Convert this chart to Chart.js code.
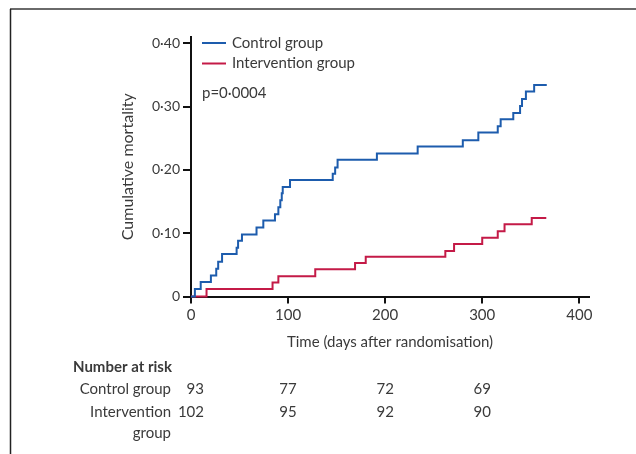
<!DOCTYPE html>
<html>
<head>
<meta charset="utf-8">
<script src="https://cdn.jsdelivr.net/npm/chart.js@4/dist/chart.umd.min.js"></script>
<style>
  html, body { margin: 0; padding: 0; background: #fff; }
  canvas { display: block; }
</style>
</head>
<body>
<canvas id="c" width="636" height="454"></canvas>
<script>
// ---- data ----
const controlDays = [0, 4, 10, 20.5, 26, 28, 32, 47, 48.5, 52.5, 67.5, 74.5, 86.5, 90, 92, 93.5, 94.5, 102, 146, 148.5, 151, 191.5, 233.5, 280, 296, 316, 319, 332, 339, 341, 345, 353.5, 366.5];
const controlMortality = [0, 0.012, 0.023, 0.033, 0.044, 0.055, 0.067, 0.077, 0.088, 0.098, 0.109, 0.120, 0.130, 0.141, 0.152, 0.163, 0.173, 0.184, 0.194, 0.204, 0.216, 0.226, 0.237, 0.247, 0.259, 0.269, 0.280, 0.290, 0.301, 0.312, 0.324, 0.334, 0.334];
const interventionDays = [0, 16, 84, 90, 128, 169, 180, 262, 271, 300, 316, 323, 351, 366];
const interventionMortality = [0, 0.012, 0.022, 0.032, 0.043, 0.053, 0.063, 0.072, 0.083, 0.093, 0.103, 0.114, 0.124, 0.124];

const seriesNames = ['Control group', 'Intervention group'];
const xTickValues = [0, 100, 200, 300, 400];
const xTickLabels = ['0', '100', '200', '300', '400'];
const yTickValues = [0, 0.1, 0.2, 0.3, 0.4];
const yTickLabels = ['0', '0·10', '0·20', '0·30', '0·40'];
const pValueText = 'p=0·0004';

const riskTimes = [0, 100, 200, 300];
const riskControl = [93, 77, 72, 69];
const riskIntervention = [102, 95, 92, 90];

const BLUE = '#1d5cad';
const RED = '#c41a47';
const TEXT = '#3a3a3a';
const FONT = 'Lato, "Open Sans", sans-serif';

function pts(xs, ys) { return xs.map((x, i) => ({ x: x, y: ys[i] })); }

const overlay = {
  id: 'overlay',
  beforeDraw(chart) {
    const ctx = chart.ctx;
    ctx.save();
    ctx.fillStyle = '#fff';
    ctx.fillRect(0, 0, chart.width, chart.height);
    // frame
    ctx.strokeStyle = '#6a6a6a';
    ctx.lineWidth = 2;
    ctx.beginPath(); ctx.moveTo(10, 9); ctx.lineTo(chart.width, 9); ctx.stroke();
    ctx.strokeStyle = '#222';
    ctx.lineWidth = 1.5;
    ctx.beginPath(); ctx.moveTo(10.5, 9); ctx.lineTo(10.5, chart.height); ctx.stroke();
    ctx.restore();
  },
  afterDraw(chart) {
    const ctx = chart.ctx;
    const xs = chart.scales.x;
    ctx.save();
    // legend
    const ds = chart.data.datasets;
    const legY = [43, 63.5];
    ctx.font = '15px ' + FONT;
    ctx.textBaseline = 'middle';
    ctx.textAlign = 'left';
    for (let i = 0; i < ds.length; i++) {
      ctx.strokeStyle = ds[i].borderColor;
      ctx.lineWidth = 2;
      ctx.beginPath(); ctx.moveTo(202, legY[i]); ctx.lineTo(226, legY[i]); ctx.stroke();
      ctx.fillStyle = TEXT;
      ctx.fillText(ds[i].label, 232, legY[i]);
    }
    ctx.fillText(pValueText, 202, 93.5);

    // number at risk table
    ctx.font = 'bold 15px ' + FONT;
    ctx.textAlign = 'left';
    ctx.fillText('Number at risk', 73, 367);
    ctx.font = '15px ' + FONT;
    ctx.textAlign = 'right';
    ctx.fillText('Control group', 171, 389.5);
    ctx.fillText('Intervention', 171, 412);
    ctx.fillText('group', 171, 433.5);
    for (let i = 0; i < riskTimes.length; i++) {
      const px = xs.getPixelForValue(riskTimes[i]);
      if (i === 0) {
        ctx.textAlign = 'right';
        ctx.fillText(String(riskControl[i]), px + 13, 389.5);
        ctx.fillText(String(riskIntervention[i]), px + 13, 412);
      } else {
        ctx.textAlign = 'center';
        ctx.fillText(String(riskControl[i]), px, 389.5);
        ctx.fillText(String(riskIntervention[i]), px, 412);
      }
    }
    ctx.restore();
  }
};

new Chart(document.getElementById('c'), {
  type: 'line',
  data: {
    datasets: [
      { label: seriesNames[0], data: pts(controlDays, controlMortality), borderColor: BLUE, borderWidth: 2, stepped: true, pointRadius: 0, fill: false, clip: false },
      { label: seriesNames[1], data: pts(interventionDays, interventionMortality), borderColor: RED, borderWidth: 2, stepped: true, pointRadius: 0, fill: false, clip: false }
    ]
  },
  options: {
    responsive: false,
    animation: false,
    devicePixelRatio: 1,
    layout: { padding: { left: 118, right: 47, top: 37, bottom: 103 } },
    plugins: { legend: { display: false }, tooltip: { enabled: false } },
    scales: {
      x: {
        type: 'linear', min: 0, max: 410,
        afterBuildTicks: s => { s.ticks = xTickValues.map(v => ({ value: v })); },
        afterFit: s => { s.height = 54.5; },
        ticks: { callback: (v) => xTickLabels[xTickValues.indexOf(v)], color: TEXT, font: { family: FONT, size: 15 }, padding: 3, maxRotation: 0, autoSkip: false },
        grid: { drawOnChartArea: false, drawTicks: true, tickLength: 7, color: '#111', lineWidth: 2 },
        border: { display: true, color: '#111', width: 2 },
        title: { display: true, text: 'Time (days after randomisation)', color: TEXT, font: { family: FONT, size: 15 }, padding: 0 }
      },
      y: {
        type: 'linear', min: 0, max: 0.41,
        afterBuildTicks: s => { s.ticks = yTickValues.map(v => ({ value: v })); },
        afterFit: s => { s.width = 73; },
        ticks: { callback: (v) => yTickLabels[yTickValues.findIndex(t => Math.abs(t - v) < 1e-9)], color: TEXT, font: { family: FONT, size: 14 }, padding: 3, autoSkip: false },
        grid: { drawOnChartArea: false, drawTicks: true, tickLength: 8, color: '#111', lineWidth: 2 },
        border: { display: true, color: '#111', width: 2 },
        title: { display: true, text: 'Cumulative mortality', color: TEXT, font: { family: FONT, size: 16 }, padding: 0 }
      }
    }
  },
  plugins: [overlay]
});
</script>
</body>
</html>
